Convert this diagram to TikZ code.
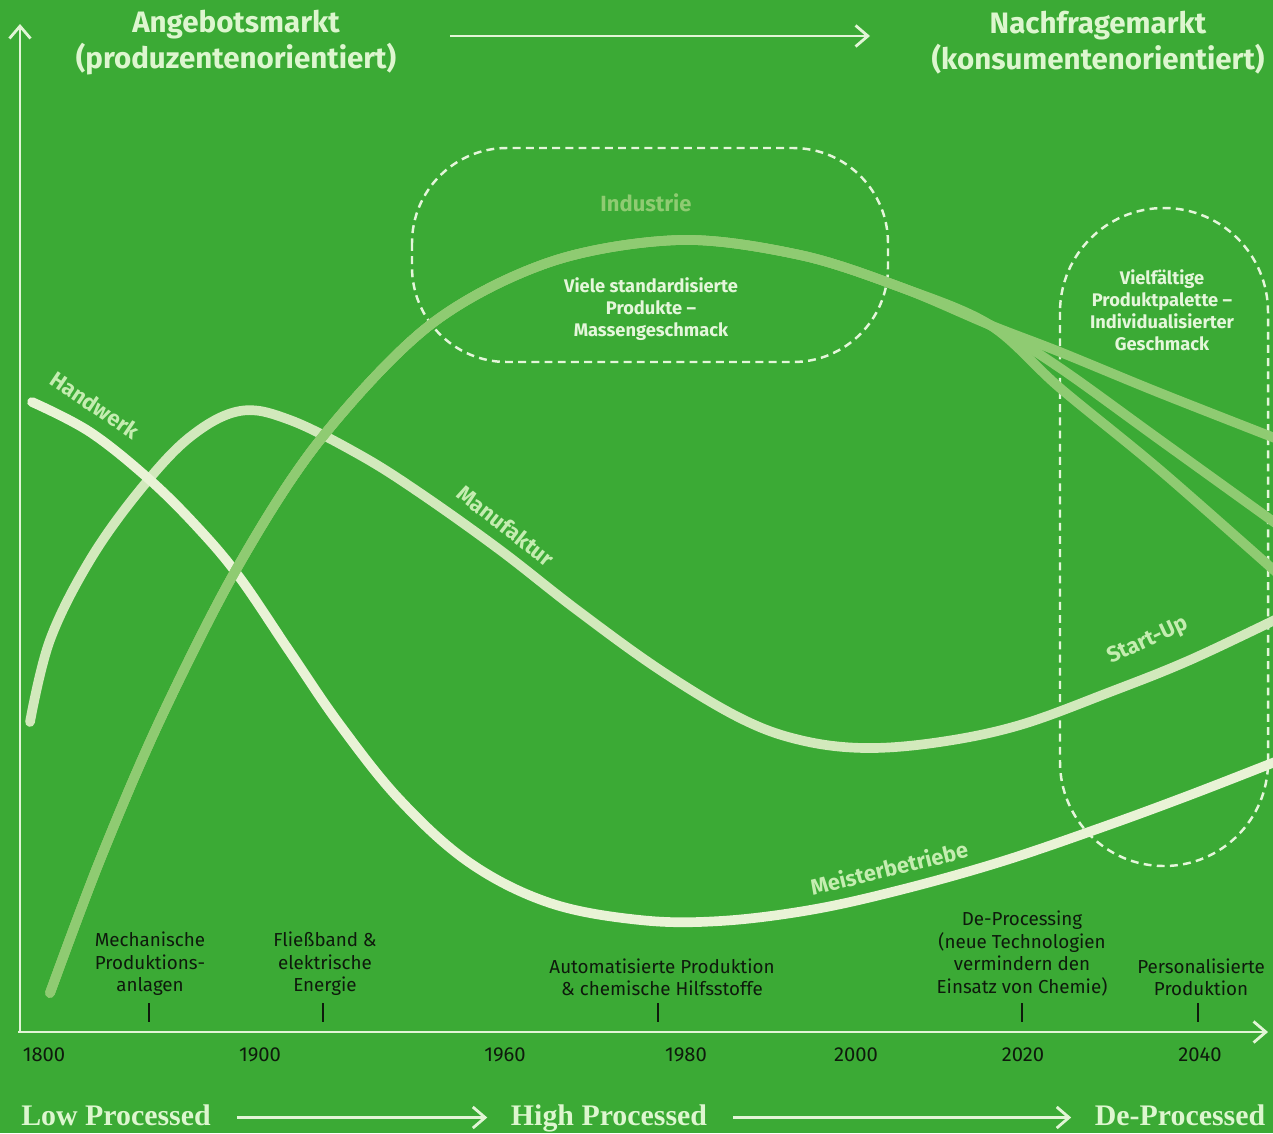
\documentclass[tikz,border=0pt]{standalone}
\usepackage{fontspec}
\setmainfont{Fira Sans}
\newfontfamily\slab{Liberation Serif}
\usetikzlibrary{arrows.meta}

\definecolor{bg}{HTML}{3BAA35}
\definecolor{axisc}{HTML}{E2F5D6}
\definecolor{handc}{HTML}{E9F3D6}
\definecolor{manuc}{HTML}{D2E9BC}
\definecolor{induc}{HTML}{8FCB72}
\definecolor{labc}{HTML}{C4EDB0}
\definecolor{titlec}{HTML}{DDF6CF}
\definecolor{boxc}{HTML}{E4F6DA}
\definecolor{inkc}{HTML}{0E1A0C}

\tikzset{
  axisline/.style={draw=axisc, line width=1.6pt},
  axisarrow/.style={axisline, -{Straight Barb[length=7pt,width=12pt,line width=1.6pt]}},
  curve/.style={line width=5.5pt, line cap=round},
  dashbox/.style={draw=boxc, line width=1.4pt, dash pattern=on 4.5pt off 3pt},
  title/.style={text=titlec, font=\bfseries\fontsize{16.8}{20.5}\selectfont, align=center},
  curvelabel/.style={text=labc, font=\bfseries\fontsize{12.5}{14}\selectfont},
  boxtext/.style={text=boxc, font=\bfseries\fontsize{10.4}{12.6}\selectfont, align=center},
  eventtext/.style={text=inkc, font=\fontsize{10.7}{12.8}\selectfont, align=center},
  year/.style={text=inkc, font=\fontsize{11.5}{13}\selectfont},
  phase/.style={text=titlec, font=\slab\bfseries\fontsize{17}{19}\selectfont, anchor=base},
  tick/.style={draw=inkc, line width=0.9pt}
}

\begin{document}
\begin{tikzpicture}[x=0.02cm,y=-0.02cm]
\fill[bg] (0,0) rectangle (1273,1133);
\useasboundingbox (0,0) rectangle (1273,1133);

% dashed groupings
\draw[dashbox, rounded corners=1.9cm] (412,148) rectangle (888,362);
\draw[dashbox, rounded corners=2.08cm] (1060,208) rectangle (1268,866);

% development curves
\begin{scope}
\clip (0,0) rectangle (1273,1133);
% Manufaktur / Start-Up
\draw[curve, manuc] plot[smooth, tension=0.6] coordinates {
  (30,722) (50,640) (90,560) (140,490) (190,437) (240,411) (290,420)
  (360,455) (420,493) (500,550) (577,610) (660,670) (740,718) (800,740)
  (865,748) (940,742) (1020,725) (1110,692) (1190,660) (1285,615)};
% Handwerk / Meisterbetriebe
\draw[curve, handc] plot[smooth, tension=0.6] coordinates {
  (32,402) (90,432) (150,480) (200,530) (240,578) (290,652) (340,725)
  (400,800) (470,863) (550,903) (640,920) (720,921) (810,910) (900,890)
  (1000,862) (1100,828) (1190,795) (1285,758)};
% Industrie: a common trunk that fans out into three branches
\foreach \ya/\yb/\yc in {352/393/442, 368/440/530, 388/470/580}{
  \draw[curve, induc] plot[smooth, tension=0.55] coordinates {
    (50,993) (100,860) (160,720) (237,568) (320,440) (430,325) (550,262)
    (680,240) (800,255) (900,287) (990,325) (1060,\ya) (1160,\yb) (1285,\yc)};
}
\end{scope}

% axes
\coordinate (origin) at (20,1032);
\coordinate (ytop) at (20,24);
\coordinate (xend) at (1268,1032);
\draw[axisarrow] (origin) -- (ytop);
\draw[axisarrow] ([xshift=-0.04cm]origin) -- (xend);

% market headings
\node[title] (angebot) at (236,43) {Angebotsmarkt\\(produzentenorientiert)};
\node[title] (nachfrage) at (1098,43) {Nachfragemarkt\\(konsumentenorientiert)};
\coordinate (ma) at (450,36);
\coordinate (mb) at (870,36);
\draw[axisarrow] (ma) -- (mb);

% group texts
\node[text=induc, font=\bfseries\fontsize{12.5}{14}\selectfont] (industrie) at (646,203) {Industrie};
\node[boxtext] (viele) at (651,309) {Viele standardisierte\\Produkte –\\Massengeschmack};
\node[boxtext] (vielf) at (1162,310) {Vielfältige\\Produktpalette –\\Individualisierter\\Geschmack};

% curve labels
\node[curvelabel, rotate=-34] (handwerk) at (95,405) {Handwerk};
\node[curvelabel, rotate=-38] (manufaktur) at (506,526) {Manufaktur};
\node[curvelabel, rotate=14] (meister) at (889,868) {Meisterbetriebe};
\node[curvelabel, rotate=25] (startup) at (1148,641) {Start-Up};

% milestones on the time axis
\node[eventtext, anchor=south] (ev1) at (150,1002) {Mechanische\\Produktions-\\anlagen};
\node[eventtext, anchor=south] (ev2) at (325,1002) {Fließband \&\\elektrische\\Energie};
\node[eventtext, anchor=south] (ev3) at (662,1002) {Automatisierte Produktion\\\& chemische Hilfsstoffe};
\node[eventtext, anchor=south] (ev4) at (1022,1002) {De-Processing\\(neue Technologien\\vermindern den\\Einsatz von Chemie)};
\node[eventtext, anchor=south] (ev5) at (1201,1002) {Personalisierte\\Produktion};
\draw[tick] (149,1003) -- (149,1022);
\draw[tick] (323,1003) -- (323,1022);
\draw[tick] (658,1003) -- (658,1022);
\draw[tick] (1022,1003) -- (1022,1022);
\draw[tick] (1198,1003) -- (1198,1022);

% years
\node[year] (y1800) at (44,1055) {1800};
\node[year] (y1900) at (260,1055) {1900};
\node[year] (y1960) at (505,1055) {1960};
\node[year] (y1980) at (686,1055) {1980};
\node[year] (y2000) at (856,1055) {2000};
\node[year] (y2020) at (1023,1055) {2020};
\node[year] (y2040) at (1200,1055) {2040};

% processing phases
\node[phase] (low) at (116,1125) {Low Processed};
\node[phase] (high) at (609,1125) {High Processed};
\node[phase] (de) at (1180,1125) {De-Processed};
\draw[axisarrow] ([shift={(0.4cm,0.15cm)}]low.base east) -- ([shift={(-0.35cm,0.15cm)}]high.base west);
\draw[axisarrow] ([shift={(0.4cm,0.15cm)}]high.base east) -- ([shift={(-0.35cm,0.15cm)}]de.base west);
\end{tikzpicture}
\end{document}
